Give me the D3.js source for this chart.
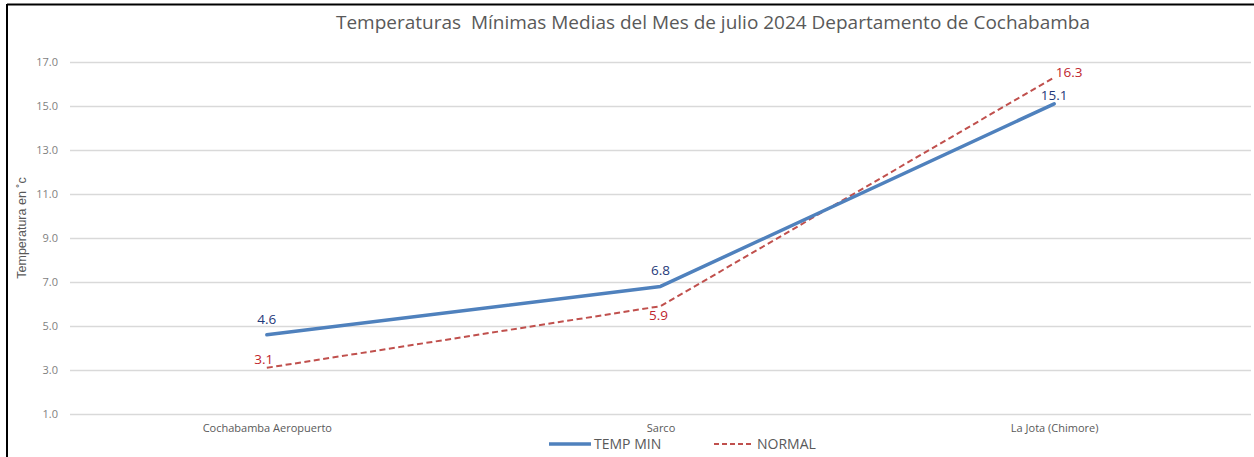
<!DOCTYPE html>
<html><head><meta charset="utf-8">
<script src="https://cdn.jsdelivr.net/npm/d3@7"></script>
<style>
body{margin:0;background:#fff;}
svg{display:block;font-family:"Open Sans","Liberation Sans",sans-serif;}
</style></head>
<body>
<svg id="c" width="1254" height="457"></svg>
<script>
const categories = ["Cochabamba Aeropuerto", "Sarco", "La Jota (Chimore)"];
const tempMin = [4.6, 6.8, 15.1];
const normal = [3.1, 5.9, 16.3];
const yTicks = [1, 3, 5, 7, 9, 11, 13, 15, 17];
const seriesNames = ["TEMP MIN", "NORMAL"];
const titleText = "Temperaturas  Mínimas Medias del Mes de julio 2024 Departamento de Cochabamba";
const yTitle = "Temperatura en ˚c";

const svg = d3.select("#c");
const W = 1254, H = 457;
const m = {left: 70, right: 3, top: 62, bottom: 43};

// frame (top and left border)
svg.append("line").attr("x1",7).attr("x2",W).attr("y1",4.5).attr("y2",4.5).attr("stroke","#000").attr("stroke-width",2);
svg.append("line").attr("x1",7).attr("x2",7).attr("y1",4).attr("y2",H).attr("stroke","#000").attr("stroke-width",2);

const x = d3.scalePoint().domain(categories).range([m.left, W - m.right]).padding(0.5);
const y = d3.scaleLinear().domain([1, 17]).range([414, 62]);

// gridlines
const yAxis = d3.axisLeft(y).tickValues(yTicks).tickFormat(d3.format(".1f")).tickSize(-(W - m.right - m.left)).tickPadding(12);
const ga = svg.append("g").attr("transform", `translate(${m.left},0)`).call(yAxis);
ga.select(".domain").remove();
ga.selectAll(".tick line").attr("stroke", "#d9d9d9").attr("stroke-width", 1.3);
ga.selectAll(".tick text").attr("fill", "#7f7f7f").attr("font-size", 11).attr("font-family", "Open Sans, sans-serif");

// x axis labels
const xAxis = d3.axisBottom(x).tickSize(0).tickPadding(10);
const gx = svg.append("g").attr("transform", `translate(0,414)`).call(xAxis);
gx.select(".domain").remove();
gx.selectAll(".tick text").attr("fill", "#595959").attr("font-size", 11).attr("font-family", "Open Sans, sans-serif");

// title
svg.append("text").attr("x", 713).attr("y", 29).attr("text-anchor", "middle")
  .attr("font-size", 17.5).attr("fill", "#595959").attr("textLength", 754).attr("lengthAdjust","spacingAndGlyphs")
  .style("white-space","pre").text(titleText);

// y axis title
svg.append("text").attr("transform", "translate(26,228) rotate(-90)").attr("text-anchor", "middle")
  .attr("font-size", 12.5).attr("fill", "#595959").attr("font-family","Liberation Sans Narrow, Liberation Sans, sans-serif").text(yTitle);

const line = d3.line().x((d, i) => x(categories[i])).y(d => y(d));

svg.append("path").datum(normal).attr("d", line).attr("fill", "none")
  .attr("stroke", "#c0504d").attr("stroke-width", 2).attr("stroke-dasharray", "6,3.5");
svg.append("path").datum(tempMin).attr("d", line).attr("fill", "none")
  .attr("stroke", "#4f81bd").attr("stroke-width", 3.5).attr("stroke-linejoin","round").attr("stroke-linecap","round");

// data labels
const blueOff = [[0, -11], [0, -11], [0, -4]];
const redOff = [[-3, -4], [-2, 14], [15, 0]];
svg.append("g").selectAll("text").data(tempMin).join("text")
  .attr("x", (d, i) => x(categories[i]) + blueOff[i][0]).attr("y", (d, i) => y(d) + blueOff[i][1])
  .attr("text-anchor", "middle").attr("font-size", 13.5).attr("fill", "#1f3a7a").text(d => d.toFixed(1));
svg.append("g").selectAll("text").data(normal).join("text")
  .attr("x", (d, i) => x(categories[i]) + redOff[i][0]).attr("y", (d, i) => y(d) + redOff[i][1])
  .attr("text-anchor", "middle").attr("font-size", 13.5).attr("fill", "#c0262d").text(d => d.toFixed(1));

// legend
const lg = svg.append("g");
lg.append("line").attr("x1", 549).attr("x2", 591).attr("y1", 444).attr("y2", 444).attr("stroke", "#4f81bd").attr("stroke-width", 3.5);
lg.append("text").attr("x", 594).attr("y", 449).attr("font-size", 14).attr("fill", "#595959").text(seriesNames[0]);
lg.append("line").attr("x1", 714).attr("x2", 753).attr("y1", 444).attr("y2", 444).attr("stroke", "#c0504d").attr("stroke-width", 2).attr("stroke-dasharray", "5,3");
lg.append("text").attr("x", 757).attr("y", 449).attr("font-size", 14).attr("fill", "#595959").text(seriesNames[1]);
</script>
</body></html>
